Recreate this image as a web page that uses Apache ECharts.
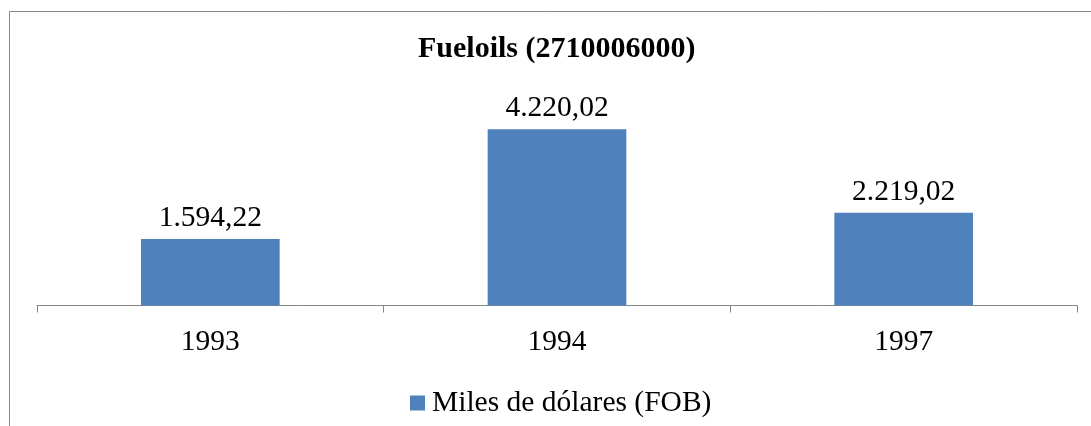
<!DOCTYPE html>
<html>
<head>
<meta charset="utf-8">
<script src="https://cdn.jsdelivr.net/npm/echarts@6/dist/echarts.min.js"></script>
<style>
  html, body { margin: 0; padding: 0; background: #fff; }
  #chart { width: 1091px; height: 426px; }
</style>
</head>
<body>
<div id="chart"></div>
<script>
const TITLE = 'Fueloils (2710006000)';
const SERIES_NAME = 'Miles de dólares (FOB)';
const years = ['1993', '1994', '1997'];
const values = [1594.22, 4220.02, 2219.02];

const FONT = 'Liberation Serif, Times New Roman, serif';
const FONT_SIZE = 29.5;
const AXIS_GRAY = '#868686';

// 1.594,22 style
function formatValue(v) {
  const parts = v.toFixed(2).split('.');
  const int = parts[0].replace(/\B(?=(\d{3})+(?!\d))/g, '.');
  return int + ',' + parts[1];
}

const chart = echarts.init(document.getElementById('chart'));

chart.setOption({
  animation: false,
  title: {
    text: TITLE,
    left: 418,
    top: 34,
    padding: 0,
    textStyle: { fontFamily: FONT, fontSize: 30, fontWeight: 'bold', color: '#000' }
  },
  legend: {
    data: [SERIES_NAME],
    left: 405,
    top: 383,
    itemWidth: 15,
    itemHeight: 15,
    icon: 'rect',
    textStyle: { fontFamily: FONT, fontSize: FONT_SIZE, color: '#000', padding: [0, 0, 0, 2] }
  },
  grid: {
    left: 37,
    right: 14,
    top: 96.7,
    bottom: 120.5
  },
  xAxis: {
    type: 'category',
    data: years,
    axisLine: { lineStyle: { color: AXIS_GRAY, width: 1 } },
    axisTick: { show: true, length: 7, lineStyle: { color: AXIS_GRAY } },
    axisLabel: { margin: 22, fontFamily: FONT, fontSize: FONT_SIZE, color: '#000' }
  },
  yAxis: {
    type: 'value',
    min: 0,
    max: 5000,
    show: false,
    splitLine: { show: false }
  },
  series: [{
    name: SERIES_NAME,
    type: 'bar',
    data: values,
    barWidth: '40%',
    itemStyle: { color: '#4F81BD' },
    label: {
      show: true,
      position: 'top',
      distance: 6,
      fontFamily: FONT,
      fontSize: FONT_SIZE,
      color: '#000',
      formatter: p => formatValue(p.value)
    }
  }],
  graphic: [{
    type: 'rect',
    shape: { x: 9.5, y: 11.5, width: 2000, height: 1000 },
    style: { fill: null, stroke: AXIS_GRAY, lineWidth: 1 },
    silent: true,
    z: -1
  }]
});
</script>
</body>
</html>
